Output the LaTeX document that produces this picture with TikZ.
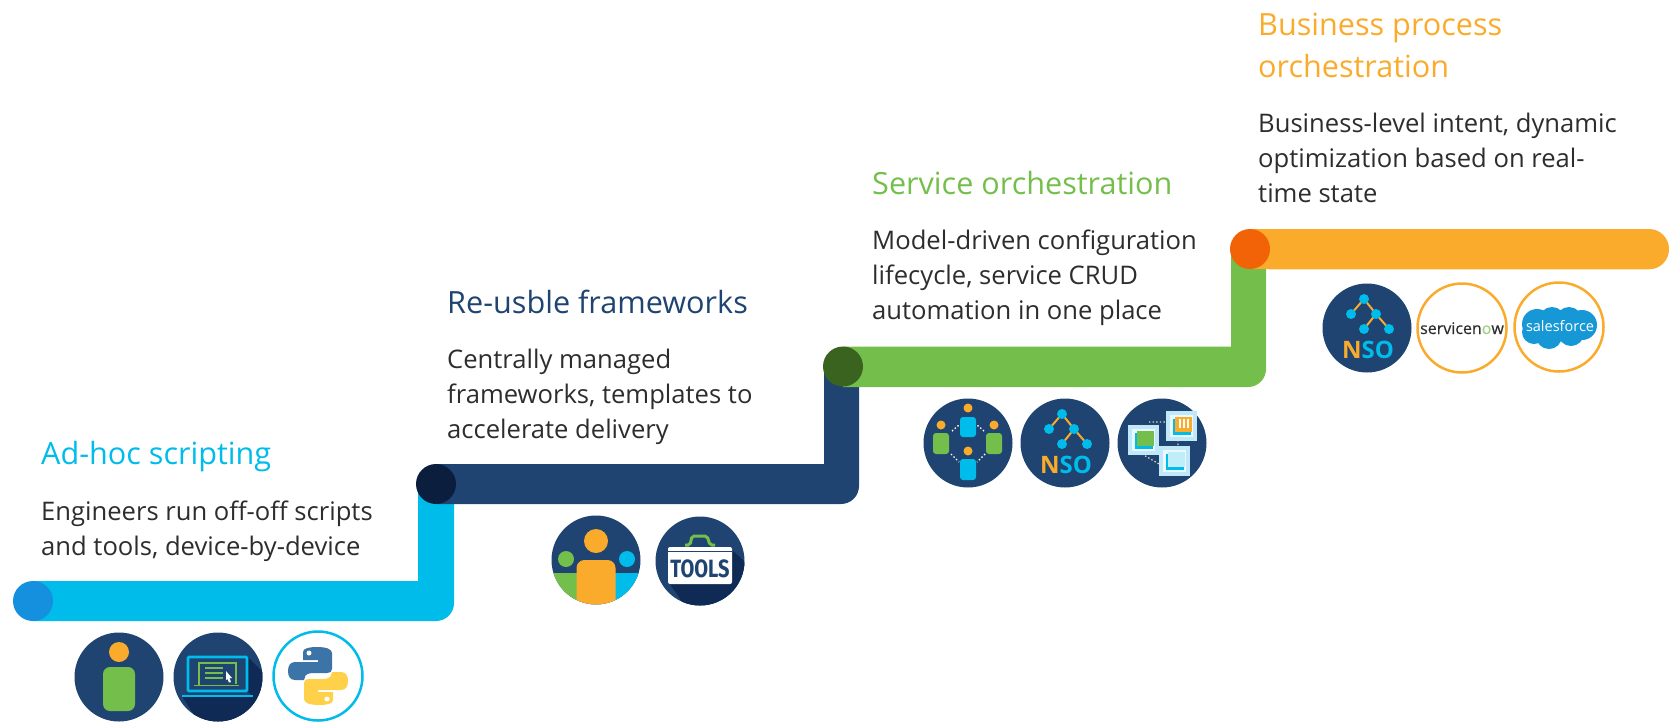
\documentclass[tikz,border=0pt]{standalone}
\usepackage{fontspec}
\setmainfont{Open Sans}
\newfontfamily\fsbold{Fira Sans}[FakeStretch=0.8,BoldFont={* Bold}]
\newfontfamily\snfont{Open Sans}[FakeBold=0.4]
\usetikzlibrary{calc}
\definecolor{ccyan}{HTML}{00BCEB}
\definecolor{cnavy}{HTML}{1F4471}
\definecolor{cdark}{HTML}{0F2A55}
\definecolor{cgreen}{HTML}{74BF4B}
\definecolor{corange}{HTML}{FBAB2C}
\definecolor{dotblue}{HTML}{1490DF}
\definecolor{dotnavy}{HTML}{0B1E3E}
\definecolor{dotgreen}{HTML}{3B6320}
\definecolor{dotorange}{HTML}{F26207}
\definecolor{bodytext}{HTML}{2D2D2D}
\definecolor{pyblue}{HTML}{3C74A8}
\definecolor{pyyellow}{HTML}{FFD04A}
\definecolor{cloudblue}{HTML}{1798D6}
\definecolor{pale}{HTML}{BFE9F8}
\tikzset{
  stepdot/.style={circle,minimum size=40pt,inner sep=0pt,draw=none},
  titletext/.style={anchor=base west,inner sep=0pt,align=left,font=\fontsize{30.6}{42}\selectfont},
  bodynode/.style={anchor=base west,inner sep=0pt,align=left,text=bodytext,font=\fontsize{25.6}{35}\selectfont},
  ringc/.style={line width=2.5pt,fill=white},
}
\newcommand{\nsoicon}[2]{%
  \begin{scope}[shift={(#1,#2)}]
    \fill[cnavy] (0,0) circle (44.5);
    \draw[corange,line width=2pt] (-16,-14) -- (-3,-29) -- (9,-14) -- (-3,1) (9,-14) -- (22,1);
    \fill[ccyan] (-3,-29) circle (5) (-16,-14) circle (5) (9,-14) circle (5) (-3,1) circle (5) (22,1) circle (5);
    \node[inner sep=0pt,anchor=base,font=\fontsize{24}{24}\selectfont\bfseries] at (1,30) {\textcolor{corange}{N}\textcolor{ccyan}{S}\textcolor{ccyan}{O}};
  \end{scope}}
\newcommand{\cube}[3]{% x y, content colour
  \fill[pale] (#1,#2) rectangle ++(31,30);
  \fill[white!70!pale] (#1+4,#2+4) rectangle ++(23,22);
  \fill[ccyan] (#1+7,#2+8) rectangle ++(18,16);
  \fill[#3] (#1+9,#2+6) rectangle ++(17,15);
}
\newcommand{\pyshape}{(-15,-16) -- (-15,-24) .. controls (-15,-28) and (-8,-29) .. (-1,-29) .. controls (8,-29) and (14,-27) .. (14,-23) -- (14,-7) .. controls (14,-4) and (12,-3) .. (9,-3) -- (-5,-3) .. controls (-10,-3) and (-13,-1) .. (-13,1) -- (-14,4) -- (-23,4) .. controls (-28,4) and (-30,0) .. (-30,-5) .. controls (-30,-10) and (-28,-14) .. (-23,-14) -- (0,-14) -- (0,-16) -- cycle}
\begin{document}
\begin{tikzpicture}[x=1pt,y=-1pt]
\useasboundingbox (0,0) rectangle (1669,721);
% staircase
\fill[ccyan] (33,621) [rounded corners=18pt] -- (454,621) [sharp corners] -- (454,484) -- (418,484) -- (418,581) -- (33,581) -- cycle;
\fill[cnavy] (436,504) [rounded corners=18pt] -- (859,504) [sharp corners] -- (859,366) -- (824,366) -- (824,464) -- (436,464) -- cycle;
\fill[cgreen] (843,387) [rounded corners=18pt] -- (1266,387) [sharp corners] -- (1266,249) -- (1231,249) -- (1231,346.5) -- (843,346.5) -- cycle;
\fill[corange,rounded corners=20pt] (1250,269.3) -- (1669,269.3) -- (1669,229) -- (1250,229) -- cycle;
\fill[corange] (1250,229) rectangle (1640,269.3);
\node[stepdot,fill=dotblue] (d1) at (33,601) {};
\node[stepdot,fill=dotnavy] (d2) at (436,484) {};
\node[stepdot,fill=dotgreen] (d3) at (843,366.5) {};
\node[stepdot,fill=dotorange] (d4) at (1250,249) {};
% texts
\node[titletext,text=ccyan] (t1) at (41,464) {Ad-hoc scripting};
\node[bodynode] (b1) at (41,555) {Engineers run off-off scripts\\and tools, device-by-device};
\node[titletext,text=cnavy] (t2) at (447,313.5) {Re-usble frameworks};
\node[bodynode] (b2) at (447,438) {Centrally managed\\frameworks, templates to\\accelerate delivery};
\node[titletext,text=cgreen] (t3) at (872,194.5) {Service orchestration};
\node[bodynode] (b3) at (872,319) {Model-driven configuration\\lifecycle, service CRUD\\automation in one place};
\node[titletext,text=corange] (t4) at (1258,77) {Business process\\orchestration};
\node[bodynode] (b4) at (1258,202) {Business-level intent, dynamic\\optimization based on real-\\time state};
% icon: person
\begin{scope}[shift={(119,677)}]
  \fill[cnavy] (0,0) circle (44.5);
  \fill[corange] (0,-25) circle (10);
  \fill[cgreen,rounded corners=7pt] (-16,-10) rectangle (16,34);
\end{scope}
% icon: laptop
\begin{scope}[shift={(218,677)}]
  \fill[cnavy] (0,0) circle (44.5);
  \begin{scope}
    \clip (0,0) circle (44.5);
    \fill[cdark] (29,-21) -- (60,10) -- (40,60) -- (-10,60) -- (-36,19) -- (35,19) -- (29,14) -- cycle;
  \end{scope}
  \draw[ccyan,line width=2.6pt,rounded corners=1pt] (-30,-20) rectangle (29,14);
  \draw[ccyan,line width=2.6pt] (-36,19) -- (35,19);
  \draw[cgreen,line width=1.3pt] (-19,9) -- (-19,-14) -- (18,-14) -- (18,7);
  \draw[cgreen,line width=1.5pt] (-24,8.5) -- (21,8.5);
  \draw[cgreen,line width=1.5pt] (-13,-9) -- (5,-9) (-13,-4) -- (5,-4) (-13,1) -- (5,1);
  \fill[white] (8,-6) -- (14,1) -- (11.5,1) -- (13,5) -- (11,5.5) -- (9.5,2) -- (8,3) -- cycle;
\end{scope}
% icon: python
\begin{scope}[shift={(318,676)}]
  \draw[ccyan,ringc] (0,0) circle (44.5);
  \fill[pyblue] \pyshape;
  \fill[white] (-9,-23) circle (2.5);
  \begin{scope}[rotate=180]
    \fill[pyyellow] \pyshape;
    \fill[white] (-9,-23) circle (2.5);
  \end{scope}
\end{scope}
% icon: people
\begin{scope}[shift={(596,560)}]
  \fill[cnavy] (0,0) circle (44.5);
  \begin{scope}
    \clip (0,0) circle (44.5);
    \fill[cgreen] (-50,13) rectangle (-15,50);
    \fill[ccyan] (15,13) rectangle (50,50);
    \fill[corange,rounded corners=8pt] (-19.5,0) rectangle (19.5,60);
  \end{scope}
  \fill[corange] (0,-19) circle (12);
  \fill[cgreen] (-30,-1) circle (8);
  \fill[ccyan] (31,-1) circle (8);
\end{scope}
% icon: tools
\begin{scope}[shift={(700,561)}]
  \fill[cnavy] (0,0) circle (44.5);
  \begin{scope}
    \clip (0,0) circle (44.5);
    \fill[cdark] (31,-12) -- (60,15) -- (30,60) -- (-5,60) -- (-30,23) -- (31,23) -- cycle;
  \end{scope}
  \draw[cgreen,line width=3pt,rounded corners=2pt] (-15,-16) -- (-10,-16) -- (-8,-25) -- (7,-25) -- (10,-16) -- (15,-16);
  \fill[white,rounded corners=2pt] (-32,-14) rectangle (32,23);
  \draw[cnavy,line width=.8pt] (-32,-9.5) -- (32,-9.5);
  \node[inner sep=0pt,anchor=center,text=cnavy,font=\fsbold\fontsize{25}{25}\selectfont\bfseries] at (0,8) {TOOLS};
\end{scope}
% icon: orchestration
\begin{scope}[shift={(968,443)}]
  \fill[cnavy] (0,0) circle (44.5);
  \fill[corange] (0,-35) circle (4.5) (-27,-18) circle (4.5) (26,-18) circle (4.5) (0,8) circle (4.5);
  \fill[ccyan,rounded corners=3pt] (-8,-26) rectangle (8,-6) (-8,16) rectangle (8,37);
  \fill[cgreen,rounded corners=3pt] (-35,-10) rectangle (-19,11) (18,-10) rectangle (34,11);
  \draw[white,line width=1.4pt,dash pattern=on 1.4pt off 2.2pt] (-16,-12) -- (-9,-18) (16,-12) -- (9,-18) (-17,11) -- (-9,19) (17,11) -- (9,19);
\end{scope}
% icon: NSO
\nsoicon{1065}{443}
% icon: cubes
\begin{scope}[shift={(1162,443)}]
  \fill[cnavy] (0,0) circle (44.5);
  \draw[pale!70!corange,line width=1.3pt,dash pattern=on 1.4pt off 2.2pt] (-13,-21) -- (4,-21) (-20,11) -- (-3,21) (16,-3) -- (16,4);
  \cube{-34}{-18}{cgreen}
  \cube{4}{-32}{corange}
  \cube{-3}{3}{white!75!ccyan}
  \draw[white,line width=1.6pt] (18,-24) -- (18,-15) (22,-24) -- (22,-15) (26,-24) -- (26,-15);
\end{scope}
% icon: NSO second
\nsoicon{1367}{328}
% icon: servicenow
\begin{scope}[shift={(1462,328)}]
  \draw[corange,ringc] (0,0) circle (44.5);
  \node[inner sep=0pt,anchor=base,text=bodytext,font=\snfont\fontsize{16}{16}\selectfont] at (0,6) {servicen\textcolor{cgreen!70!white}{o}w};
\end{scope}
% icon: salesforce
\begin{scope}[shift={(1559,327)}]
  \draw[corange,ringc] (0,0) circle (44.5);
  \fill[cloudblue] (-22,-3) circle (15) (-7,-7) circle (13) (10,-7) circle (13) (23,-2) circle (15) (12,6) circle (13) (-10,9) circle (13) (-25,5) circle (12);
  \node[inner sep=0pt,anchor=base,text=white,font=\fontsize{14.5}{14.5}\selectfont] at (1,4) {salesforce};
\end{scope}
\end{tikzpicture}
\end{document}
